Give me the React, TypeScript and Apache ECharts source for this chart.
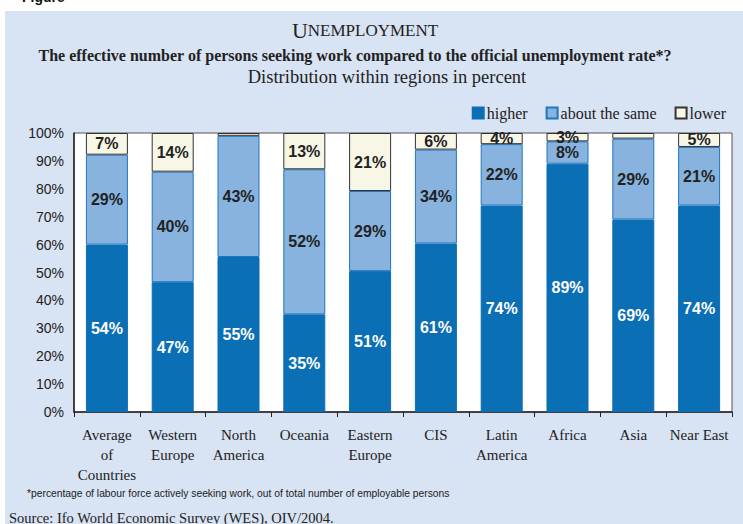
import React, { useEffect, useRef } from "react";
import * as echarts from "echarts";

const categories = [
  "Average\nof\nCountries",
  "Western\nEurope",
  "North\nAmerica",
  "Oceania",
  "Eastern\nEurope",
  "CIS",
  "Latin\nAmerica",
  "Africa",
  "Asia",
  "Near East",
];
const higher = [54, 47, 55, 35, 51, 61, 74, 89, 69, 74];
const aboutSame = [29, 40, 43, 52, 29, 34, 22, 8, 29, 21];
const lower = [7, 14, 1, 13, 21, 6, 4, 3, 2, 5];
const yTicks = [0, 10, 20, 30, 40, 50, 60, 70, 80, 90, 100];

const totals = categories.map((_, i) => higher[i] + aboutSame[i] + lower[i]);

function build(raw: number[]) {
  return raw.map((v, i) => ({
    value: (v / totals[i]) * 100,
    raw: v,
    label: { show: v >= 3 },
  }));
}

export default function App() {
  const ref = useRef<HTMLDivElement>(null);
  useEffect(() => {
    if (!ref.current) return;
    const chart = echarts.init(ref.current, undefined, { renderer: "svg" });
    const labelCommon = {
      show: true,
      position: "inside" as const,
      fontFamily: "Liberation Sans, Arial, sans-serif",
      fontWeight: "bold" as const,
      fontSize: 16,
      formatter: (p: any) => `${p.data.raw}%`,
    };
    chart.setOption({
      animation: false,
      backgroundColor: "#ffffff",
      graphic: [
        {
          type: "rect",
          shape: { x: 5, y: 11, width: 740, height: 520 },
          style: { fill: "#D8E3F3" },
          z: -10,
          silent: true,
        },
        {
          type: "text",
          x: 22,
          y: -10,
          style: {
            text: "Figure",
            fontFamily: "Liberation Sans, Arial, sans-serif",
            fontWeight: "bold",
            fontSize: 14,
            fill: "#111",
          },
        },
        {
          type: "text",
          x: 365,
          y: 30,
          style: {
            text: "{a|U}{b|NEMPLOYMENT}",
            align: "center",
            verticalAlign: "middle",
            rich: {
              a: { fontFamily: "Liberation Serif, Times New Roman, serif", fontSize: 22, fill: "#222" },
              b: { fontFamily: "Liberation Serif, Times New Roman, serif", fontSize: 17, fill: "#222" },
            },
          },
        },
        {
          type: "text",
          x: 355,
          y: 55,
          style: {
            text: "The effective number of persons seeking work compared to the official unemployment rate*?",
            align: "center",
            verticalAlign: "middle",
            fontFamily: "Liberation Serif, Times New Roman, serif",
            fontWeight: "bold",
            fontSize: 16,
            fill: "#222",
          },
        },
        {
          type: "text",
          x: 387,
          y: 77,
          style: {
            text: "Distribution within regions in percent",
            align: "center",
            verticalAlign: "middle",
            fontFamily: "Liberation Serif, Times New Roman, serif",
            fontSize: 18.5,
            fill: "#222",
          },
        },
        {
          type: "text",
          x: 27,
          y: 493,
          style: {
            text: "*percentage of labour force actively seeking work, out of total number of employable persons",
            verticalAlign: "middle",
            fontFamily: "Liberation Sans, Arial, sans-serif",
            fontSize: 10.3,
            fill: "#222",
          },
        },
        {
          type: "text",
          x: 9,
          y: 518,
          style: {
            text: "Source: Ifo World Economic Survey (WES), OIV/2004.",
            verticalAlign: "middle",
            fontFamily: "Liberation Serif, Times New Roman, serif",
            fontSize: 14.5,
            fill: "#222",
          },
        },
      ],
      legend: {
        right: 12,
        top: 100,
        itemWidth: 11,
        itemHeight: 11,
        itemGap: 18,
        icon: "rect",
        textStyle: {
          fontFamily: "Liberation Serif, Times New Roman, serif",
          fontSize: 16,
          color: "#222",
          padding: [0, 0, 0, -2],
        },
        data: ["higher", "about the same", "lower"],
      },
      grid: {
        left: 74,
        right: 11,
        top: 133,
        bottom: 112,
        show: true,
        backgroundColor: "#ffffff",
        borderColor: "#555",
        borderWidth: 1,
      },
      xAxis: {
        type: "category",
        data: categories,
        axisLine: { lineStyle: { color: "#222", width: 1.5 } },
        axisTick: { show: true, length: 5, lineStyle: { color: "#222" } },
        axisLabel: {
          interval: 0,
          margin: 13,
          fontFamily: "Liberation Serif, Times New Roman, serif",
          fontSize: 15,
          lineHeight: 20,
          color: "#222",
        },
      },
      yAxis: {
        type: "value",
        min: 0,
        max: 100,
        interval: 10,
        axisLine: { show: true, lineStyle: { color: "#222", width: 1.5 } },
        axisTick: { show: false },
        splitLine: { show: false },
        axisLabel: {
          margin: 10,
          fontFamily: "Liberation Sans, Arial, sans-serif",
          fontSize: 14,
          color: "#222",
          formatter: (v: number) => (yTicks.includes(v) ? `${v}%` : ""),
        },
      },
      series: [
        {
          name: "higher",
          type: "bar",
          stack: "s",
          barWidth: 42,
          data: build(higher),
          itemStyle: { color: "#0B6FB6", borderColor: "#0B6FB6", borderWidth: 1 },
          label: { ...labelCommon, color: "#ffffff" },
        },
        {
          name: "about the same",
          type: "bar",
          stack: "s",
          barWidth: 42,
          data: build(aboutSame),
          itemStyle: { color: "#87B3DE", borderColor: "#1F77C0", borderWidth: 1 },
          label: { ...labelCommon, color: "#222" },
        },
        {
          name: "lower",
          type: "bar",
          stack: "s",
          barWidth: 42,
          data: build(lower),
          itemStyle: { color: "#F8F7E6", borderColor: "#333", borderWidth: 1 },
          label: { ...labelCommon, color: "#222" },
        },
      ],
    });
    return () => chart.dispose();
  }, []);
  return <div ref={ref} style={{ width: 743, height: 524, position: "absolute", left: 0, top: 0 }} />;
}
